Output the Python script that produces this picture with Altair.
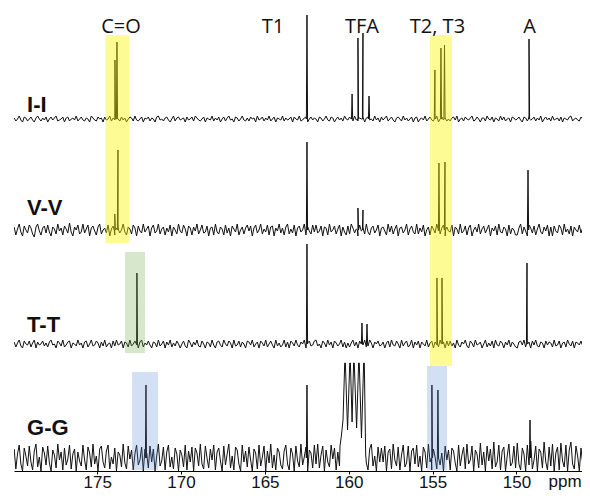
import altair as alt
import pandas as pd

# ---------------- data ----------------
GRID_START = 179.95   # ppm of first noise sample
GRID_STEP = 0.1       # ppm between noise samples
FOOT = 0.035          # half-width of a peak foot (ppm)

spectra = ["I-I", "V-V", "T-T", "G-G"]
baselines = [354, 243, 129, 15]

noise_II = [
    1, -2, 0, 3, -1, -3, 2, 1, -2, 0, 2, -1, -3, 1, 3, 0, -2, 1, -1, 2,
    -3, 0, 2, -1, 1, 3, -2, -1, 0, 2, -3, 1, 2, -2, 0, 1, -1, 3, -2, 0,
    2, -1, -2, 1, 0, -3, 3, 1, -1, -2, 2, 0, 1, -3, 2, -1, 0, 3, -2, 1,
    -1, 3, 0, -2, 2, -1, 1, -3, 0, 2, 1, -2, 3, -1, -2, 0, 2, -3, 1, 0,
    2, -2, 1, 0, -3, 2, 3, -1, 0, -2, 1, 2, -1, -3, 0, 3, -2, 1, 2, -1,
    0, 1, -3, 2, -1, 0, 2, -2, 3, 1, -1, -2, 0, 2, -3, 1, 0, -1, 3, -2,
    1, -1, 2, -3, 0, 2, -2, 1, 3, -1, 0, -3, 2, 1, -2, 0, 3, -1, -2, 1,
    -2, 2, 0, 1, -3, 3, -1, 0, 2, -2, 1, -1, 3, -2, 0, 2, -3, 1, 0, -1,
    3, -2, 1, -1, 0, 2, -3, 2, 0, -1, 3, -2, -1, 1, 2, -3, 0, 2, -1, 1,
    0, -3, 2, 1, -2, 0, 3, -1, -2, 2, 1, -3, 0, 2, -1, 1, -2, 3, 0, -1,
    2, 0, -2, 3, -1, -2, 1, 0, 2, -3, 1, 2, -1, 0, -2, 3, -1, 1, -3, 2,
    -1, 1, 3, -2, 0, 2, -1, -3, 1, 2, 0, -2, 3, -1, 1, -2, 0, 2, -3, 1,
    2, -3, 0, 1, -1, 3, -2, 0, 2, -1, -2, 1, 3, -3, 0, 2, -1, 1, -2, 0,
    -2, 1, 2, -1, 3, -3, 0, 1, -2, 2, 0, -1, 1, 3, -2, -1, 2, 0, -3, 1,
    1, -2, 3, 0, -1, 2, -3, 1, 0, -2, 3, -1, 2, -2, 0, 1, -3, 2, 1, -1,
    0, 2, -1, -3, 2, 1, -2, 3, -1, 0, 2, -2, 1, -1, 3, -3, 0, 2, -1, 1,
    -2, 3, -1, 0, 1, -2, 2, -3, 1, 0, -1, 2, 3, -2, 0, 1, -1, -2, 2, 0,
]
noise_VV = [
    3, -5, 1, 6, -2, -6, 4, 0, -3, 5, 2, -4, -7, 3, 6, -1, -5, 2, 4, -3,
    5, -2, -6, 3, 1, -4, 6, -1, 2, -5, 4, 1, -3, 7, -2, -6, 3, 0, 5, -4,
    -2, 6, -3, 1, 5, -6, 2, 4, -1, -5, 3, 6, -4, 0, 2, -3, 5, -6, 1, 4,
    -5, 2, 4, -3, 0, 6, -2, -5, 3, 1, -4, 5, 2, -6, 4, -1, -3, 6, -2, 1,
    4, -6, 2, 5, -3, -1, 6, -4, 1, 3, -5, 2, -2, 5, -6, 3, 0, -4, 6, -1,
    -3, 5, 1, -6, 4, 2, -5, 3, -1, 6, -4, 0, 5, -3, -2, 4, -6, 2, 3, -5,
    6, -2, -4, 3, 1, -5, 5, -3, 2, -6, 4, 1, -2, 6, -5, 0, 3, -4, 2, 5,
    -1, 4, -6, 2, 5, -3, 0, 6, -4, 1, -2, 5, -5, 3, 4, -6, 2, -1, 6, -3,
    2, -5, 3, 6, -4, 1, -3, 5, -6, 2, 4, -2, 0, 6, -5, 3, -1, -4, 5, -2,
    5, -3, -1, 4, -6, 3, 2, -5, 6, -2, 0, 4, -4, 1, 5, -6, 3, -2, -5, 4,
    -4, 6, 2, -3, 1, -6, 5, -1, 3, -4, 6, -2, -5, 2, 4, -3, 0, 5, -6, 2,
    3, -1, -5, 6, -2, 4, -4, 1, 5, -6, 2, 3, -3, 0, 6, -5, 1, 4, -2, -4,
    6, -4, 2, -2, 5, -6, 0, 3, -5, 4, 1, -3, 6, -1, -4, 2, 5, -6, 3, -1,
    -2, 5, -6, 3, 1, -4, 6, -3, -1, 4, -5, 2, 5, -6, 0, 3, -2, 6, -4, 1,
    4, -3, 1, 5, -6, 2, -1, 4, -5, 6, -2, -3, 3, 1, -6, 5, -4, 2, 0, -5,
    -5, 2, 6, -4, 3, -1, -6, 5, 2, -3, 4, -5, 1, 6, -2, -4, 3, -1, 5, -6,
    3, -6, 4, -1, -3, 5, 2, -5, 6, -2, 1, -4, 4, -6, 3, 0, -2, 5, -3, 2,
]
noise_TT = [
    2, -3, 1, 4, -2, -4, 3, 0, -1, 3, -3, 1, 4, -4, 2, -1, 0, 3, -2, 1,
    -3, 2, 4, -1, 0, -4, 3, 1, -2, 4, -3, -1, 2, 3, -4, 1, 0, -2, 4, -1,
    1, -4, 2, 3, -3, 0, 4, -2, -1, 3, 1, -4, 2, -2, 4, -3, 0, 1, -4, 3,
    -2, 4, -1, 0, 3, -4, 2, 1, -3, 4, -2, 0, 3, -1, -4, 2, 4, -3, 1, -1,
    3, -1, -4, 2, 1, -3, 4, -2, 0, 3, -4, 2, -1, 4, -3, 1, -2, 3, 0, -4,
    0, 3, -2, -4, 4, 1, -3, 2, -1, 4, -2, -3, 3, 0, -4, 2, 1, -3, 4, -1,
    -4, 2, 3, -1, -3, 4, 0, -2, 3, 1, -4, 4, -2, -1, 3, -3, 2, 0, -4, 3,
    2, -1, 4, -3, 0, 2, -4, 3, 1, -2, 4, -3, 0, 3, -1, -4, 4, -2, 1, -3,
    -1, 4, -3, 2, -4, 3, 1, -2, 4, -1, -3, 2, 0, 4, -4, 1, 3, -2, -1, 3,
    4, -2, 0, -4, 3, 1, -3, 4, -1, 2, -4, 3, 1, -2, 0, 4, -3, 2, -4, 1,
    -3, 1, 4, -2, 2, -4, 3, 0, -1, 4, -3, -2, 4, 1, -4, 2, 0, 3, -2, -1,
    2, -4, 1, 3, -3, 4, -1, -2, 3, 0, -4, 4, -2, 1, 3, -3, -1, 4, -4, 2,
    -1, 3, -4, 2, 0, -2, 4, -3, 1, 3, -4, 2, -1, -3, 4, 0, 2, -4, 3, -2,
    3, -2, 1, -4, 4, -1, -3, 2, 0, 4, -2, -4, 3, 1, -3, 4, -1, 0, 2, -4,
    0, 4, -3, 1, -2, 3, -4, 4, -1, -2, 3, 1, -4, 2, -1, 4, -3, 2, 0, -3,
    -4, 2, 3, -1, 4, -3, 0, 2, -4, 3, -1, 4, -2, -3, 2, 1, -4, 3, -1, 2,
    1, -3, 4, -2, -1, 3, -4, 1, 2, -3, 4, 0, -2, 3, -4, 2, 1, -1, 3, -2,
]
noise_GG = [
    9, -11, 4, 13, -6, -13, 10, 2, -8, 12, -4, -12, 7, 14, -9, 1, -13, 11, 5, -7,
    12, -5, -13, 8, 3, -10, 14, -2, 6, -12, 10, -7, -1, 13, -11, 4, 9, -13, 6, -3,
    -8, 13, -2, -12, 11, 5, -9, 14, -6, 2, -13, 9, 12, -4, -10, 7, 13, -11, 1, -6,
    10, -13, 6, 3, -9, 14, -5, -11, 12, -1, 8, -12, 4, 13, -7, -2, 11, -13, 9, 5,
    -10, 12, -4, 9, -13, 2, 14, -8, -3, 11, -12, 6, 13, -9, 1, -11, 10, 4, -13, 8,
    3, -9, 13, -12, 7, -4, 11, -13, 10, 5, -8, 14, -6, -11, 12, 0, -10, 9, -2, 13,
    -12, 6, 10, -3, -13, 12, -7, 4, 14, -10, 2, -12, 11, 8, -6, -13, 13, -4, 7, -9,
    11, -2, -13, 9, 5, -11, 13, -8, 1, 12, -13, 7, -5, 14, -10, 3, -12, 10, 6, -7,
    -11, 7, 13, -6, -12, 10, 4, -13, 12, -3, -9, 14, -7, 1, 11, -13, 8, 5, -10, 13,
    -6, 14, -10, 3, 12, -13, 8, -4, -9, 13, -1, 10, -12, 6, -8, None, None, None, None, None,
    None, None, None, None, None, None, None, None, None, None, -5, -12, 9, 14, -8, 2, -13, 11, -4, 10,
    -4, 12, -13, 6, 9, -11, 14, -2, -8, 11, -12, 3, 13, -9, -5, 12, -13, 7, 10, -6,
    13, -9, 2, -13, 11, 6, -10, 14, -4, -12, 9, 1, -11, 13, -7, 5, -13, 12, -2, 8,
    -12, 10, 7, -5, -13, 13, -8, 3, 11, -11, 14, -6, -2, 12, -13, 8, 4, -10, 15, -7,
    6, -13, 12, -3, 9, -11, 16, -9, -4, 13, -12, 7, 11, -13, 2, 14, -8, -5, 12, -10,
    15, -6, -12, 10, 4, -13, 13, -7, 17, -11, -2, 12, -13, 9, 6, -10, 16, -4, -12, 11,
    -8, 14, -13, 5, 11, -12, 15, -3, -9, 13, -13, 8, 16, -6, -11, 12, 2, -13, 10, -5,
]

# peaks: (ppm, height above baseline)
peaks_II = [(173.94, 59), (173.82, 77), (162.49, 104), (159.80, 25), (159.45, 81),
            (159.15, 86), (158.79, 23), (154.86, 49), (154.50, 71), (154.29, 74),
            (149.25, 80)]
peaks_VV = [(173.95, 16), (173.76, 80), (162.49, 88), (159.45, 22), (159.15, 20),
            (154.62, 67), (154.26, 68), (149.31, 60)]
peaks_TT = [(172.63, 71), (162.49, 100), (159.21, 21), (158.91, 20), (154.74, 66),
            (154.44, 66), (149.37, 81)]
peaks_GG = [(172.09, 73), (162.49, 73), (155.04, 73), (154.68, 68), (149.19, 38)]
# G-G TFA multiplet (off scale), traced point by point
band_GG = [(160.52, 12), (160.44, 22), (160.34, 38), (160.24, 95), (160.20, 95),
           (160.07, 28), (159.94, 95), (159.90, 95), (159.80, 36), (159.71, 95),
           (159.67, 95), (159.53, 30), (159.41, 95), (159.37, 95), (159.24, 20),
           (159.11, 95), (159.07, 95), (158.99, 4)]

noises = [noise_II, noise_VV, noise_TT, noise_GG]
peak_lists = [peaks_II, peaks_VV, peaks_TT, peaks_GG]
bands = [[], [], [], band_GG]

# highlight boxes
box_x1 = [174.50, 173.34, 172.92, 155.15, 155.33]
box_x2 = [173.10, 172.15, 171.37, 153.84, 154.14]
box_y1 = [230, 120, 3, 107, 3]
box_y2 = [438, 221, 101, 438, 107]
box_color = ["#fbf500", "#6aaa46", "#5082d2", "#fbf500", "#5082d2"]
box_opacity = [0.42, 0.28, 0.25, 0.42, 0.25]

top_labels = ["C=O", "T1", "TFA", "T2, T3", "A"]
top_ppm = [173.58, 164.52, 159.21, 154.71, 149.22]
row_label_y = [368, 265, 148, 45]

tick_values = [175, 170, 165, 160, 155, 150]

# ---------------- build tables ----------------
rows = []
for s, base, noise, peaks, band in zip(spectra, baselines, noises, peak_lists, bands):
    pts = []
    for i, n in enumerate(noise):
        if n is None:
            continue
        pts.append((GRID_START - GRID_STEP * i, n))
    for p, h in peaks:
        pts += [(p + FOOT, 0), (p, h), (p - FOOT, 0)]
    pts += band
    pts.sort(key=lambda t: -t[0])
    for k, (p, v) in enumerate(pts):
        rows.append({"spec": s, "ppm": round(p, 4), "val": base + v, "ord": k})
lines_df = pd.DataFrame(rows)

boxes_df = pd.DataFrame({"x1": box_x1, "x2": box_x2, "y1": box_y1, "y2": box_y2,
                         "color": box_color, "op": box_opacity})
top_df = pd.DataFrame({"ppm": top_ppm, "val": [446] * len(top_ppm), "label": top_labels})
row_df = pd.DataFrame({"ppm": [179.18] * 4, "val": row_label_y, "label": spectra})
ppm_df = pd.DataFrame({"ppm": [147.10], "val": [-1], "label": ["ppm"]})

# ---------------- chart ----------------
xs = alt.Scale(domain=[146.09, 179.96], reverse=True, nice=False, zero=False)
ys = alt.Scale(domain=[2, 465], nice=False, zero=False)
xax = alt.Axis(values=tick_values, title=None, grid=False, domainColor="#000",
               tickColor="#000", tickSize=3, labelFontSize=17, labelFont="Liberation Sans",
               labelColor="#111", labelPadding=0, domainWidth=1)

lines = alt.Chart(lines_df).mark_line(color="#111", strokeWidth=1.0, clip=True).encode(
    x=alt.X("ppm:Q", scale=xs, axis=xax),
    y=alt.Y("val:Q", scale=ys, axis=None),
    detail="spec:N",
    order="ord:Q",
)

boxes = alt.Chart(boxes_df).mark_rect().encode(
    x=alt.X("x1:Q", scale=xs, axis=xax),
    x2="x2:Q",
    y=alt.Y("y1:Q", scale=ys, axis=None),
    y2="y2:Q",
    color=alt.Color("color:N", scale=None),
    opacity=alt.Opacity("op:Q", scale=None),
)

top_text = alt.Chart(top_df).mark_text(font="Open Sans", fontSize=20, color="#111",
                                       baseline="middle").encode(
    x=alt.X("ppm:Q", scale=xs, axis=xax),
    y=alt.Y("val:Q", scale=ys, axis=None),
    text="label:N",
)

row_text = alt.Chart(row_df).mark_text(font="Liberation Sans", fontSize=22, fontWeight="bold",
                                       color="#111", align="left", baseline="middle").encode(
    x=alt.X("ppm:Q", scale=xs, axis=xax),
    y=alt.Y("val:Q", scale=ys, axis=None),
    text="label:N",
)

ppm_text = alt.Chart(ppm_df).mark_text(font="Liberation Sans", fontSize=17, color="#111",
                                       baseline="top").encode(
    x=alt.X("ppm:Q", scale=xs, axis=xax),
    y=alt.Y("val:Q", scale=ys, axis=None),
    text="label:N",
)

chart = alt.layer(lines, boxes, top_text, row_text, ppm_text).properties(
    width=568, height=463,
    autosize=alt.AutoSizeParams(type="none"),
    padding={"left": 6, "top": 0, "right": 0, "bottom": 20},
    background="white",
).configure_view(stroke=None)

chart.save("out.html", embed_options={"renderer": "svg", "actions": False})
